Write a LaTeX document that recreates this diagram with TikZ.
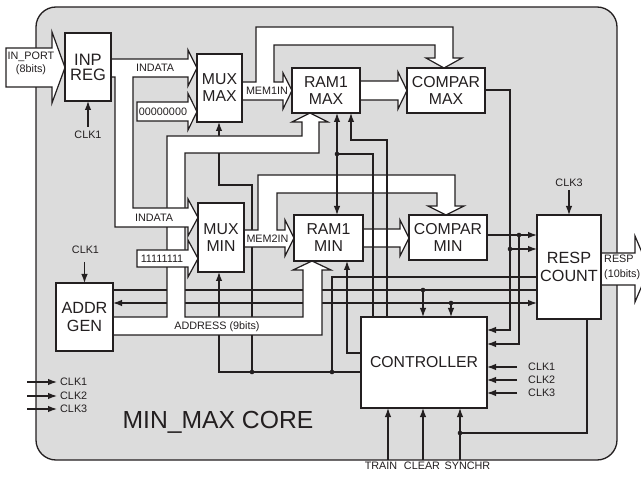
\documentclass[tikz,border=0pt]{standalone}
\usepackage{fontspec}
\setmainfont{Liberation Sans}
\usetikzlibrary{arrows.meta}
\definecolor{ink}{HTML}{231F20}
\definecolor{core}{HTML}{DCDCDC}
\begin{document}
\begin{tikzpicture}[x=1pt,y=-1pt,
  box/.style={draw=ink, fill=white, line width=1.3pt, inner sep=0pt, outer sep=0pt, align=center, text=ink},
  bus/.style={draw=ink, fill=white, line width=1.2pt, line join=miter},
  wire/.style={draw=ink, line width=1.2pt},
  arr/.style={wire, -{Latex[length=9pt,width=6.5pt]}},
  lbl/.style={text=ink, inner sep=0pt, font=\fontsize{10.8}{12}\selectfont},
  bigf/.style={font=\fontsize{15.8}{17}\selectfont},
  jdot/.style={fill=ink}
]
\useasboundingbox (0,0) rectangle (641,484);
% core frame
\draw[draw=ink, fill=core, line width=1.3pt, rounded corners=20pt] (36,7) rectangle (617,460);

% ---------- thin wires (under the buses) ----------
\draw[arr] (88,127) -- (88,101);
\draw[arr] (252,372) -- (252,185) -- (219,185) -- (219,122);
\draw[arr] (361,372) -- (219,372) -- (219,272);
\draw[wire] (332,372) -- (332,277) -- (537,277);
\draw[arr] (361,353) -- (347,353) -- (347,261);
\draw[wire] (113,290) -- (537,290);
\draw[arr] (423,290) -- (423,317);
\draw[wire,{Latex[length=9pt,width=6.5pt]}-{Latex[length=9pt,width=6.5pt]}] (113,303) -- (537,303);
\draw[arr] (451,303) -- (451,317);
\draw[arr] (485,90) -- (510,90) -- (510,330) -- (487,330);
\draw[arr] (510,249) -- (537,249);
\draw[arr] (487,235) -- (537,235);
\draw[arr] (519,235) -- (519,344) -- (487,344);
\draw[arr] (84.5,262) -- (84.5,283);
\draw[arr] (569,190) -- (569,215);
\draw[wire] (587,319) -- (587,433) -- (460,433);
\draw[arr] (388,460) -- (388,408);
\draw[arr] (423,460) -- (423,408);
\draw[arr] (460,460) -- (460,408);
\draw[arr] (517,367) -- (487,367);
\draw[arr] (517,380) -- (487,380);
\draw[arr] (517,393) -- (487,393);
\draw[arr] (27,382) -- (57,382);
\draw[arr] (27,396) -- (57,396);
\draw[arr] (27,409) -- (57,409);

% ---------- buses ----------
% MEM1IN
\draw[bus] (242,82) -- (256,82) -- (256,27) -- (453,27) -- (453,58) -- (462,58) -- (444,68)
  -- (426,58) -- (435,58) -- (435,45) -- (274,45) -- (274,82) -- (283,82) -- (283,73)
  -- (292,90.5) -- (283,109) -- (283,100) -- (242,100) -- cycle;
% RAM1 MAX -> COMPAR MAX
\draw[bus] (360,81) -- (398,81) -- (398,72) -- (407,90.5) -- (398,109) -- (398,100) -- (360,100) -- cycle;
% MEM2IN
\draw[bus] (244,230) -- (258,230) -- (258,175) -- (455,175) -- (455,206) -- (464,206) -- (446,215)
  -- (428,206) -- (437,206) -- (437,193) -- (277,193) -- (277,230) -- (285,230) -- (285,220)
  -- (294,238) -- (285,256) -- (285,247) -- (244,247) -- cycle;
% RAM1 MIN -> COMPAR MIN
\draw[bus] (363,229) -- (400,229) -- (400,220) -- (409,238) -- (400,256) -- (400,247) -- (363,247) -- cycle;
% ADDRESS bus
\draw[bus] (113,317) -- (167,317) -- (167,136) -- (302,136) -- (302,122) -- (292,122) -- (310,113)
  -- (328,122) -- (319,122) -- (319,153) -- (185,153) -- (185,317) -- (303,317) -- (303,270)
  -- (293,270) -- (312,261) -- (331,270) -- (322,270) -- (322,335) -- (113,335) -- cycle;
% INDATA bus
\draw[bus] (111,59) -- (188,59) -- (188,50) -- (197,68) -- (188,86) -- (188,77) -- (133,77)
  -- (133,208) -- (188,208) -- (188,199) -- (198,217.5) -- (188,236) -- (188,227) -- (115,227)
  -- (115,77) -- (111,77) -- cycle;
% constants
\draw[bus] (137,102) -- (188,102) -- (188,93.5) -- (197,111.7) -- (188,130) -- (188,121) -- (137,121) -- cycle;
\draw[bus] (137,250) -- (188,250) -- (188,240) -- (198,258.5) -- (188,277) -- (188,267) -- (137,267) -- cycle;
% IN_PORT
\draw[bus] (6,48) -- (52,48) -- (52,32) -- (65,67.5) -- (52,103) -- (52,87) -- (6,87) -- cycle;
% RESP output
\draw[bus] (601,253) -- (635,253) -- (635,236) -- (649,269) -- (635,302) -- (635,285) -- (601,285) -- cycle;

% ---------- wires drawn over the MEM2IN bus ----------
\draw[wire] (373,317) -- (373,154) -- (337,154);
\draw[arr] (337,154) -- (337,113);
\draw[arr] (337,154) -- (337,215);
\draw[arr] (387,317) -- (387,140) -- (351,140) -- (351,113);

% ---------- blocks ----------
\node[box,font=\fontsize{16.5}{15}\selectfont,minimum width=46pt,minimum height=68pt] (inp) at (88,67) {INP\\REG};
\node[box,bigf,minimum width=45pt,minimum height=68pt] (muxmax) at (219.5,88) {MUX\\MAX};
\node[box,bigf,minimum width=68pt,minimum height=45pt] (rammax) at (326,90.5) {RAM1\\MAX};
\node[box,bigf,minimum width=78pt,minimum height=45pt] (cmpmax) at (446,90.5) {COMPAR\\MAX};
\node[box,bigf,minimum width=46pt,minimum height=69pt] (muxmin) at (221,237.5) {MUX\\MIN};
\node[box,bigf,minimum width=69pt,minimum height=46pt] (rammin) at (328.5,238) {RAM1\\MIN};
\node[box,bigf,minimum width=78pt,minimum height=45pt] (cmpmin) at (448,237.5) {COMPAR\\MIN};
\node[box,font=\fontsize{16.2}{18}\selectfont,minimum width=64pt,minimum height=104pt] (resp) at (569,267) {RESP\\COUNT};
\node[box,font=\fontsize{16.2}{18}\selectfont,minimum width=57pt,minimum height=68pt] (addr) at (84.5,317) {ADDR\\GEN};
\node[box,bigf,minimum width=126pt,minimum height=91pt] (ctrl) at (424,362.5) {CONTROLLER};

% ---------- junction dots ----------
\foreach \p/\q in {252/372, 332/372, 423/290, 451/303, 510/249, 519/235, 337/154, 460/433}
  \fill[jdot] (\p,\q) circle (2.3pt);

% ---------- labels ----------
\node[lbl,align=center,font=\fontsize{10.8}{13}\selectfont] (inport) at (31,63.5) {IN\_PORT\\(8bits)};
\node[lbl] (clkinp) at (88,135) {CLK1};
\node[lbl] (indmax) at (155,68) {INDATA};
\node[lbl] (indmin) at (154,218) {INDATA};
\node[lbl] (zeros) at (163,112) {00000000};
\node[lbl] (ones) at (162,258.5) {11111111};
\node[lbl] (mem1) at (267,91) {MEM1IN};
\node[lbl] (mem2) at (267.5,239) {MEM2IN};
\node[lbl] (clkaddr) at (85.5,250) {CLK1};
\node[lbl] (clkresp) at (569,182.5) {CLK3};
\node[lbl,align=left,anchor=west,font=\fontsize{10.8}{15}\selectfont] (respout) at (604,267.5) {RESP\\(10bits)};
\node[lbl] (address) at (217,327) {ADDRESS (9bits)};
\node[lbl,anchor=west] (lc1) at (60,382) {CLK1};
\node[lbl,anchor=west] (lc2) at (60,396) {CLK2};
\node[lbl,anchor=west] (lc3) at (60,409) {CLK3};
\node[lbl,anchor=west] (rc1) at (528,367) {CLK1};
\node[lbl,anchor=west] (rc2) at (528,380) {CLK2};
\node[lbl,anchor=west] (rc3) at (528,393) {CLK3};
\node[lbl] (train) at (381,466) {TRAIN};
\node[lbl] (clear) at (422,466) {CLEAR};
\node[lbl] (synchr) at (467.5,466) {SYNCHR};
\node[text=ink,inner sep=0pt,font=\fontsize{24.7}{28}\selectfont] (title) at (218,422) {MIN\_MAX CORE};
\end{tikzpicture}
\end{document}
